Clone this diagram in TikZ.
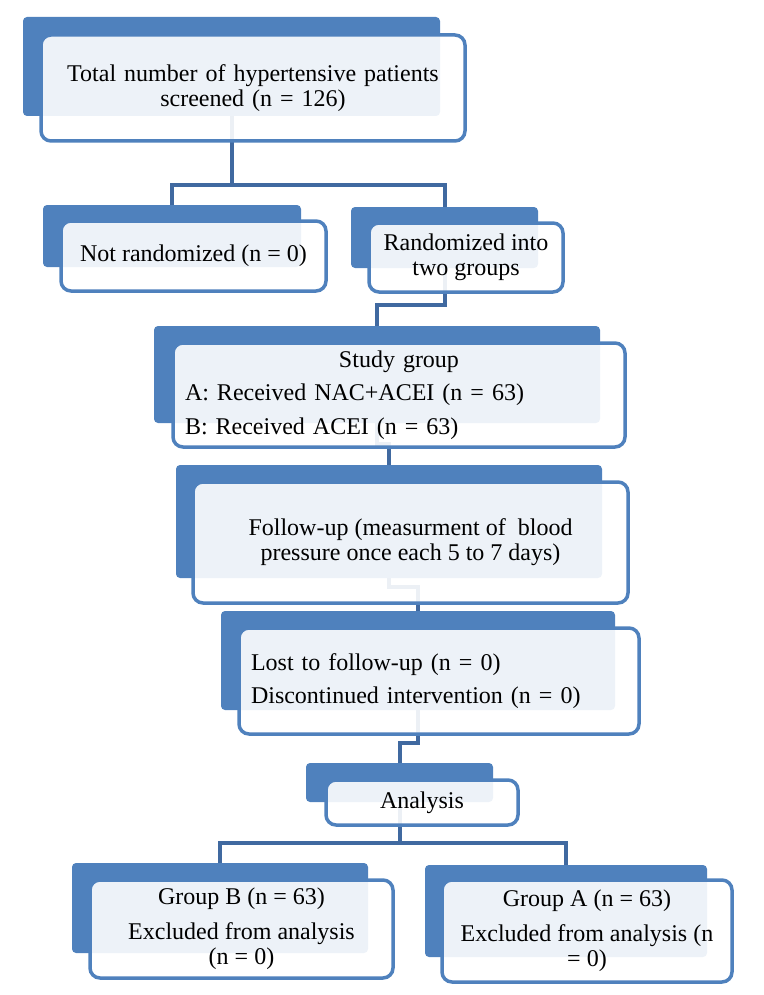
\documentclass[tikz,border=0pt]{standalone}
\usepackage{fontspec}
\setmainfont{Liberation Serif}
\usepackage{tikz}

\definecolor{boxblue}{HTML}{4F81BD}
\definecolor{linkblue}{HTML}{4069A0}

\tikzset{
  back/.style={fill=boxblue,rounded corners=4pt,inner sep=0pt},
  front/.style={draw=boxblue,line width=3.5pt,rounded corners=10pt,fill=white,
    fill opacity=0.9,text opacity=1,inner sep=0pt,align=center,
    font=\fontsize{24}{25}\selectfont},
  link/.style={draw=linkblue,line width=4pt}
}

\begin{document}
\begin{tikzpicture}[x=1pt,y=-1pt]

    \useasboundingbox (0,0) rectangle (763,995);

    % back boxes
    \node [back,minimum width=417,minimum height=99] (b1) at (231.5,66.5) {};
    \node [back,minimum width=258,minimum height=62] (b2) at (172,236) {};
    \node [back,minimum width=187,minimum height=61] (b3) at (444.5,237.5) {};
    \node [back,minimum width=446,minimum height=97] (b4) at (377,374.5) {};
    \node [back,minimum width=426,minimum height=113] (b5) at (389,521.5) {};
    \node [back,minimum width=394,minimum height=99] (b6) at (418,660.5) {};
    \node [back,minimum width=187,minimum height=39] (b7) at (399.5,782.5) {};
    \node [back,minimum width=296,minimum height=90] (b8) at (220,908) {};
    \node [back,minimum width=282,minimum height=92] (b9) at (566,911) {};

    % connectors
    \coordinate (s1) at (b1.south |- 0,185);
    \coordinate (s3) at (b3.south |- 0,305);
    \coordinate (s4) at (b4.south |- 0,444);
    \coordinate (s5) at (b5.south |- 0,587);
    \coordinate (s6) at (b6.south |- 0,743);
    \coordinate (s7) at (b7.south |- 0,843);

    \draw [link] (b1.south) -- (s1) -| (b2.north);
    \draw [link] (s1) -| (b3.north);
    \draw [link] (b3.south) -- (s3) -| (b4.north);
    \draw [link] (b4.south) -- (s4) -| (b5.north);
    \draw [link] (b5.south) -- (s5) -| (b6.north);
    \draw [link] (b6.south) -- (s6) -| (b7.north);
    \draw [link] (b7.south) -- (s7) -| (b8.north);
    \draw [link] (s7) -| (b9.north);

    % front boxes
    \node [front,minimum width=424,minimum height=106,text width=400] (total) at (253,88)
      {Total number of hypertensive patients\\ screened (n = 126)};
    \node [front,minimum width=265,minimum height=70] (notrand) at (193.5,256)
      {Not randomized (n = 0)};
    \node [front,minimum width=194,minimum height=69] (rand) at (466,257.5)
      {Randomized into\\ two groups};
    \node [front,minimum width=452,minimum height=104,text width=428,align=left] (study) at (399,395)
      {\makebox[428pt]{Study group}\\[8pt]
       A: Received NAC+ACEI (n = 63)\\[9pt]
       B: Received ACEI (n = 63)};
    \node [front,minimum width=435,minimum height=121] (follow) at (410.5,542.5)
      {Follow-up (measurment of\ \ blood\\ pressure once each 5 to 7 days)};
    \node [front,minimum width=400,minimum height=106,text width=376,align=left] (lost) at (439,681)
      {Lost to follow-up (n = 0)\\[8pt]
       Discontinued intervention (n = 0)};
    \node [front,minimum width=192,minimum height=45] (analysis) at (422,802.5)
      {Analysis};
    \node [front,minimum width=303,minimum height=98] (groupb) at (241.5,929)
      {Group B (n = 63)\\[10pt] Excluded from analysis\\ (n = 0)};
    \node [front,minimum width=290,minimum height=102] (groupa) at (587,931)
      {Group A (n = 63)\\[10pt] Excluded from analysis (n\\ = 0)};

\end{tikzpicture}
\end{document}
